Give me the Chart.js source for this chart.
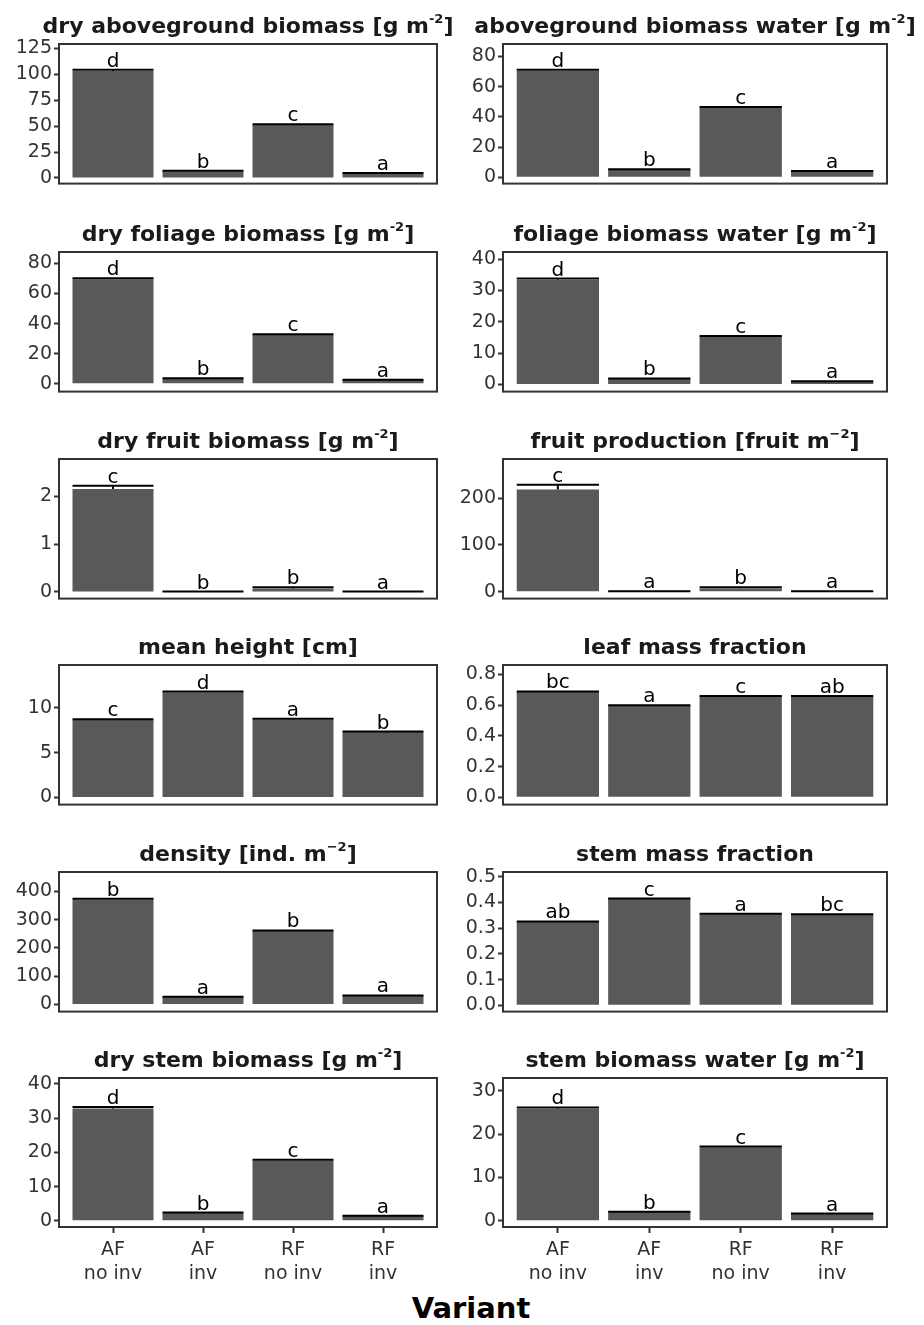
<!DOCTYPE html>
<html>
<head>
<meta charset="utf-8">
<script src="https://cdn.jsdelivr.net/npm/chart.js@4.4.1/dist/chart.umd.min.js"></script>
<style>
  html, body { margin: 0; padding: 0; background: #fff; }
  #wrap { position: relative; width: 924px; height: 1325px; overflow: hidden; }
  #wrap canvas { position: absolute; }
  #xtitle {
    position: absolute; left: 0; width: 942px; top: 1294px;
    text-align: center; font: bold 29px "DejaVu Sans"; line-height: 29px; color: #000;
  }
</style>
</head>
<body>
<div id="wrap">
  <div id="xtitle">Variant</div>
</div>
<script>
// categories
const variants = [['AF', 'no inv'], ['AF', 'inv'], ['RF', 'no inv'], ['RF', 'inv']];
const xPos = [1, 2, 3, 4];

// dry aboveground biomass
const dryAbove = [103, 6.5, 51, 4.6];
const dryAboveSe = [1.2, 0.4, 0.8, 0.3];
const dryAboveLetters = ['d', 'b', 'c', 'a'];
const dryAboveTicks = ['0', '25', '50', '75', '100', '125'];

// aboveground biomass water
const waterAbove = [70.5, 5.0, 46, 4.0];
const waterAboveSe = [0.8, 0.3, 0.5, 0.2];
const waterAboveLetters = ['d', 'b', 'c', 'a'];
const waterAboveTicks = ['0', '20', '40', '60', '80'];

// dry foliage biomass
const dryFoliage = [69.5, 3.5, 32.5, 2.5];
const dryFoliageSe = [0.7, 0.2, 0.4, 0.2];
const dryFoliageLetters = ['d', 'b', 'c', 'a'];
const dryFoliageTicks = ['0', '20', '40', '60', '80'];

// foliage biomass water
const waterFoliage = [33.4, 1.8, 15.3, 0.9];
const waterFoliageSe = [0.4, 0.1, 0.2, 0.1];
const waterFoliageLetters = ['d', 'b', 'c', 'a'];
const waterFoliageTicks = ['0', '10', '20', '30', '40'];

// dry fruit biomass
const dryFruit = [2.15, 0.005, 0.07, 0.005];
const dryFruitSe = [0.07, 0.003, 0.03, 0.003];
const dryFruitLetters = ['c', 'b', 'b', 'a'];
const dryFruitTicks = ['0', '1', '2'];

// fruit production
const fruitProd = [219, 0.5, 7, 0.5];
const fruitProdSe = [10, 0.3, 2.5, 0.3];
const fruitProdLetters = ['c', 'a', 'b', 'a'];
const fruitProdTicks = ['0', '100', '200'];

// mean height
const meanHeight = [8.65, 11.75, 8.7, 7.3];
const meanHeightSe = [0.08, 0.08, 0.08, 0.06];
const meanHeightLetters = ['c', 'd', 'a', 'b'];
const meanHeightTicks = ['0', '5', '10'];

// leaf mass fraction
const leafFrac = [0.686, 0.596, 0.656, 0.656];
const leafFracSe = [0.003, 0.003, 0.003, 0.003];
const leafFracLetters = ['bc', 'a', 'c', 'ab'];
const leafFracTicks = ['0.0', '0.2', '0.4', '0.6', '0.8'];

// density
const density = [372, 26, 260, 31];
const densitySe = [2, 1, 2, 1];
const densityLetters = ['b', 'a', 'b', 'a'];
const densityTicks = ['0', '100', '200', '300', '400'];

// stem mass fraction
const stemFrac = [0.324, 0.413, 0.354, 0.352];
const stemFracSe = [0.002, 0.002, 0.002, 0.002];
const stemFracLetters = ['ab', 'c', 'a', 'bc'];
const stemFracTicks = ['0.0', '0.1', '0.2', '0.3', '0.4', '0.5'];

// dry stem biomass
const dryStem = [32.8, 2.3, 17.6, 1.4];
const dryStemSe = [0.4, 0.1, 0.2, 0.1];
const dryStemLetters = ['d', 'b', 'c', 'a'];
const dryStemTicks = ['0', '10', '20', '30', '40'];

// stem biomass water
const waterStem = [25.9, 2.0, 17.0, 1.55];
const waterStemSe = [0.3, 0.1, 0.15, 0.1];
const waterStemLetters = ['d', 'b', 'c', 'a'];
const waterStemTicks = ['0', '10', '20', '30'];

const panels = [
  { title: ['dry aboveground biomass [g m', '-2', ']'], y: dryAbove, se: dryAboveSe, letters: dryAboveLetters, ticks: dryAboveTicks, range: [-5.4, 129] },
  { title: ['aboveground biomass water [g m', '-2', ']'], y: waterAbove, se: waterAboveSe, letters: waterAboveLetters, ticks: waterAboveTicks, range: [-4.2, 88.3] },
  { title: ['dry foliage biomass [g m', '-2', ']'], y: dryFoliage, se: dryFoliageSe, letters: dryFoliageLetters, ticks: dryFoliageTicks, range: [-5.2, 87.6] },
  { title: ['foliage biomass water [g m', '-2', ']'], y: waterFoliage, se: waterFoliageSe, letters: waterFoliageLetters, ticks: waterFoliageTicks, range: [-2.3, 42.3] },
  { title: ['dry fruit biomass [g m', '-2', ']'], y: dryFruit, se: dryFruitSe, letters: dryFruitLetters, ticks: dryFruitTicks, range: [-0.14, 2.78] },
  { title: ['fruit production [fruit m', '\u22122', ']'], y: fruitProd, se: fruitProdSe, letters: fruitProdLetters, ticks: fruitProdTicks, range: [-14.7, 284] },
  { title: ['mean height [cm]', '', ''], y: meanHeight, se: meanHeightSe, letters: meanHeightLetters, ticks: meanHeightTicks, range: [-0.8, 14.8] },
  { title: ['leaf mass fraction', '', ''], y: leafFrac, se: leafFracSe, letters: leafFracLetters, ticks: leafFracTicks, range: [-0.047, 0.861] },
  { title: ['density [ind. m', '\u22122', ']'], y: density, se: densitySe, letters: densityLetters, ticks: densityTicks, range: [-25.4, 469] },
  { title: ['stem mass fraction', '', ''], y: stemFrac, se: stemFracSe, letters: stemFracLetters, ticks: stemFracTicks, range: [-0.0245, 0.518] },
  { title: ['dry stem biomass [g m', '-2', ']'], y: dryStem, se: dryStemSe, letters: dryStemLetters, ticks: dryStemTicks, range: [-1.8, 41.7] },
  { title: ['stem biomass water [g m', '-2', ']'], y: waterStem, se: waterStemSe, letters: waterStemLetters, ticks: waterStemTicks, range: [-1.45, 33] }
];

const rowTops = [44, 252, 459, 665, 872, 1078];
const panelH = 149;
const fam = '"DejaVu Sans"';

// barres d'erreur, lettres, cadre et titre
function makeDecor(p) {
  return {
    id: 'decor',
    afterDatasetsDraw(chart) {
      const ctx = chart.ctx;
      const ys = chart.scales.y;
      const bars = chart.getDatasetMeta(0).data;
      ctx.save();
      bars.forEach((bar, k) => {
        const half = bar.width / 2;
        const top = ys.getPixelForValue(p.y[k] + p.se[k]);
        ctx.strokeStyle = '#000';
        ctx.lineWidth = 2;
        ctx.beginPath();
        ctx.moveTo(bar.x - half, top);
        ctx.lineTo(bar.x + half, top);
        ctx.moveTo(bar.x, top);
        ctx.lineTo(bar.x, bar.y);
        ctx.stroke();
        ctx.fillStyle = '#000';
        ctx.font = '20px ' + fam;
        ctx.textAlign = 'center';
        ctx.textBaseline = 'alphabetic';
        ctx.fillText(p.letters[k], bar.x, top - 3);
      });
      ctx.restore();
    },
    afterDraw(chart) {
      const ctx = chart.ctx;
      const a = chart.chartArea;
      ctx.save();
      ctx.strokeStyle = '#333333';
      ctx.lineWidth = 2;
      ctx.strokeRect(a.left, a.top, a.right - a.left, a.bottom - a.top);

      const big = 'bold 22px ' + fam, small = 'bold 13px ' + fam;
      ctx.fillStyle = '#1a1a1a';
      ctx.textAlign = 'left';
      ctx.textBaseline = 'alphabetic';
      ctx.font = big;
      const w1 = ctx.measureText(p.title[0]).width;
      const w3 = ctx.measureText(p.title[2]).width;
      ctx.font = small;
      const w2 = ctx.measureText(p.title[1]).width;
      const x0 = (a.left + a.right) / 2 - (w1 + w2 + w3) / 2;
      const yb = a.top - 11;
      ctx.font = big;
      ctx.fillText(p.title[0], x0, yb);
      ctx.font = small;
      ctx.fillText(p.title[1], x0 + w1, yb - 10);
      ctx.font = big;
      ctx.fillText(p.title[2], x0 + w1 + w2, yb);
      ctx.restore();
    }
  };
}

panels.forEach((p, i) => {
  const col = i % 2, row = Math.floor(i / 2);
  const bottom = row === 5;
  const left = col === 0 ? 0 : 455;
  const width = col === 0 ? 462 : 469;
  const axisW = col === 0 ? 59 : 48;
  const padRight = col === 0 ? 25 : 37;
  const height = 40 + panelH + (bottom ? 70 : 4);

  const canvas = document.createElement('canvas');
  canvas.width = width;
  canvas.height = height;
  canvas.style.left = left + 'px';
  canvas.style.top = (rowTops[row] - 40) + 'px';
  canvas.style.width = width + 'px';
  canvas.style.height = height + 'px';
  document.getElementById('wrap').appendChild(canvas);

  new Chart(canvas, {
    type: 'bar',
    data: {
      datasets: [{
        data: p.y.map((v, k) => ({ x: xPos[k], y: v })),
        backgroundColor: '#595959',
        borderWidth: 0,
        barPercentage: 0.9,
        categoryPercentage: 1.0
      }]
    },
    options: {
      responsive: false,
      animation: false,
      layout: { padding: { top: 40, right: padRight, bottom: bottom ? 0 : 4, left: 0 } },
      plugins: { legend: { display: false }, tooltip: { enabled: false } },
      scales: {
        x: {
          type: 'linear',
          min: 0.4,
          max: 4.6,
          offset: false,
          display: bottom,
          afterBuildTicks: ax => { ax.ticks = xPos.map(v => ({ value: v })); },
          afterFit: ax => { if (bottom) ax.height = 70; },
          border: { display: false },
          grid: { offset: false, drawOnChartArea: false, drawTicks: true, tickLength: 6, tickColor: '#333333', tickWidth: 2 },
          ticks: {
            autoSkip: false,
            maxRotation: 0,
            padding: 5,
            color: '#333333',
            font: { family: 'DejaVu Sans', size: 19, lineHeight: 1.25 },
            callback: (v, k) => variants[k]
          }
        },
        y: {
          min: p.range[0],
          max: p.range[1],
          afterBuildTicks: ax => { ax.ticks = p.ticks.map(t => ({ value: parseFloat(t) })); },
          afterFit: ax => { ax.width = axisW; },
          border: { display: false },
          grid: { drawOnChartArea: false, drawTicks: true, tickLength: 5, tickColor: '#333333', tickWidth: 2 },
          ticks: {
            padding: 2,
            color: '#333333',
            font: { family: 'DejaVu Sans', size: 19 },
            callback: (v, k) => p.ticks[k]
          }
        }
      }
    },
    plugins: [makeDecor(p)]
  });
});
</script>
</body>
</html>
